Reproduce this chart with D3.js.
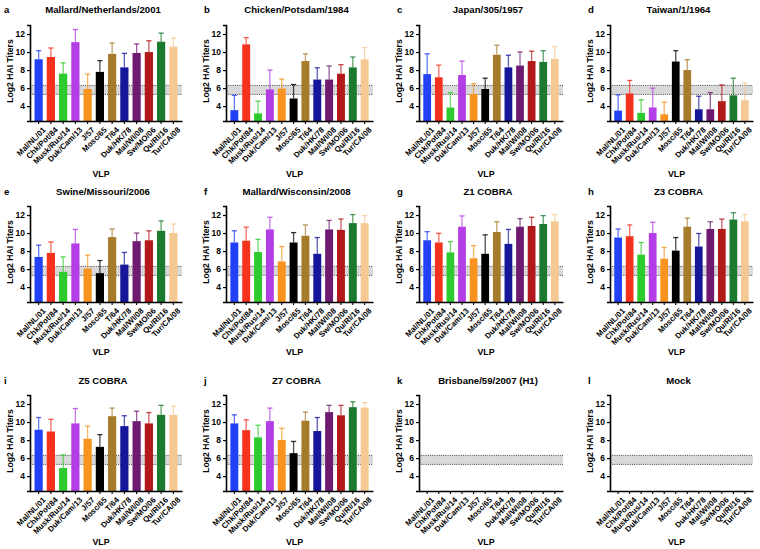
<!DOCTYPE html>
<html><head><meta charset="utf-8">
<script src="https://cdn.jsdelivr.net/npm/d3@7"></script>
<style>body{margin:0;background:#fff}svg{display:block}text{font-family:"Liberation Sans",Arial,Helvetica,sans-serif}</style>
</head><body>
<svg id="c" width="760" height="549"></svg>
<script>
const categories = ["Mal/NL/01","Chk/Pot/84","Musk/Rus/14","Duk/Cam/13","J/57","Mosc/65","T/64","Duk/HK/78","Mal/WI/08","Sw/MO/06","Qu/RI/16","Tur/CA/08"];
const colors = ["#2240f5","#f5321e","#2ecb2e","#b43ee6","#f7931e","#000000","#a67c2c","#16169a","#6e1a70","#b2191b","#1b7a30","#f6c892"];
const panelLetters = ["a","b","c","d","e","f","g","h","i","j","k","l"];
const panelTitles = ["Mallard/Netherlands/2001","Chicken/Potsdam/1984","Japan/305/1957","Taiwan/1/1964","Swine/Missouri/2006","Mallard/Wisconsin/2008","Z1 COBRA","Z3 COBRA","Z5 COBRA","Z7 COBRA","Brisbane/59/2007 (H1)","Mock"];
const means = [
  [9.2,9.45,7.6,11.1,5.9,7.8,9.8,8.3,9.9,10.0,11.15,10.6],
  [3.55,10.85,3.2,5.85,5.95,4.85,9.0,6.95,6.95,7.6,8.3,9.2],
  [7.55,7.2,3.85,7.45,5.35,5.9,9.7,8.3,8.5,9.0,8.9,9.25],
  [3.5,5.4,3.25,3.85,3.1,8.95,8.0,3.65,3.65,4.55,5.2,4.65],
  [7.35,7.8,5.7,8.85,6.05,5.55,9.55,6.5,9.1,9.2,10.25,10.0],
  [8.95,9.15,7.9,10.4,6.85,8.95,9.7,7.7,10.4,10.35,11.1,11.1],
  [9.2,8.95,7.85,10.7,7.2,7.7,10.12,8.8,10.7,10.78,11.0,11.3],
  [9.5,9.65,7.6,10.0,7.15,8.05,10.7,8.5,10.45,10.45,11.5,11.3],
  [9.15,8.95,4.9,9.85,8.15,7.25,10.65,9.55,10.1,9.85,10.8,10.8],
  [9.85,9.1,8.3,10.1,8.0,6.55,10.15,9.0,11.1,10.75,11.65,11.6],
  [null,null,null,null,null,null,null,null,null,null,null,null],
  [null,null,null,null,null,null,null,null,null,null,null,null]
];
const errTops = [
  [10.15,10.45,8.8,12.5,7.55,9.05,11.0,9.85,10.9,11.25,12.1,11.55],
  [5.2,11.6,4.55,8.0,7.0,6.4,9.8,8.25,8.45,8.6,9.45,10.5],
  [9.8,8.55,5.5,9.0,6.5,7.1,10.75,9.65,10.0,10.1,10.15,10.6],
  [5.25,6.85,4.7,6.0,4.45,10.15,9.15,5.1,5.5,6.35,7.1,6.55],
  [8.65,9.0,7.35,10.4,7.55,6.95,10.45,7.85,10.0,10.25,11.35,11.0],
  [10.25,10.65,9.3,11.75,8.5,10.05,10.9,9.5,11.4,11.55,12.05,11.95],
  [10.15,9.97,9.05,11.9,8.6,9.8,11.25,10.4,11.6,11.75,11.93,12.05],
  [10.45,10.9,8.95,11.2,8.4,9.5,11.65,9.95,11.25,11.55,12.25,12.05],
  [10.5,10.3,6.35,11.5,9.55,8.6,11.55,10.7,11.2,11.05,11.85,11.75],
  [10.8,10.25,9.65,11.55,9.3,7.85,11.1,10.5,11.85,11.85,12.25,12.15],
  [null,null,null,null,null,null,null,null,null,null,null,null],
  [null,null,null,null,null,null,null,null,null,null,null,null]
];
const yTicks = [4,6,8,10,12];
const bandLow = 5.3, bandHigh = 6.3;
const yMin = 2.35, yMax = 13;

const colAxisX = [30, 226, 419, 610];
const colPlotW = [152, 147, 144, 143];
const rowTopY = [25, 206, 395];
const plotH = 96;
const rowTitleY = [13, 194.5, 384];
const rowVlpY = [176.5, 355, 545];

const svg = d3.select("#c");

for (let p = 0; p < 12; p++) {
  const col = p % 4, row = Math.floor(p / 4);
  const x0 = colAxisX[col], W = colPlotW[col], y0 = rowTopY[row];
  const g = svg.append("g").attr("transform", `translate(${x0},${y0})`);
  const x = d3.scaleBand().domain(categories).range([0, W]).paddingInner(0.33).paddingOuter(0.37);
  const y = d3.scaleLinear().domain([yMin, yMax]).range([plotH, 0]);

  // band
  g.append("rect").attr("x", 0).attr("width", W)
    .attr("y", y(bandHigh)).attr("height", y(bandLow) - y(bandHigh))
    .attr("fill", "#d9d9d9");
  [bandLow, bandHigh].forEach(v => {
    g.append("line").attr("x1", 0).attr("x2", W).attr("y1", y(v)).attr("y2", y(v))
      .attr("stroke", "#333").attr("stroke-width", 0.9).attr("stroke-dasharray", "1,1.2");
  });

  const data = categories.map((c, i) => ({c, m: means[p][i], e: errTops[p][i], col: colors[i]})).filter(d => d.m != null);
  // error bars
  const eb = g.selectAll(".eb").data(data).enter().append("g");
  eb.append("line")
    .attr("x1", d => x(d.c) + x.bandwidth() / 2).attr("x2", d => x(d.c) + x.bandwidth() / 2)
    .attr("y1", d => y(d.m)).attr("y2", d => y(d.e))
    .attr("stroke", d => d.col).attr("stroke-opacity", 0.7).attr("stroke-width", 1.3);
  eb.append("line")
    .attr("x1", d => x(d.c) + x.bandwidth() / 2 - 2.6).attr("x2", d => x(d.c) + x.bandwidth() / 2 + 2.6)
    .attr("y1", d => y(d.e)).attr("y2", d => y(d.e))
    .attr("stroke", d => d.col).attr("stroke-opacity", 0.8).attr("stroke-width", 1.3);
  // bars
  g.selectAll(".bar").data(data).enter().append("rect")
    .attr("x", d => x(d.c)).attr("width", x.bandwidth())
    .attr("y", d => y(d.m)).attr("height", d => y(yMin) - y(d.m))
    .attr("fill", d => d.col);

  // axes
  const ya = g.append("g").call(d3.axisLeft(y).tickValues(yTicks).tickSize(3).tickPadding(2).tickFormat(d3.format("d")));
  ya.select(".domain").attr("stroke-width", 1.6);
  ya.selectAll(".tick line").attr("stroke-width", 1.2);
  ya.selectAll("text").attr("font-size", 8.5).attr("font-weight", "bold").attr("fill", "#000");
  const xa = g.append("g").attr("transform", `translate(0,${plotH})`)
    .call(d3.axisBottom(x).tickSize(3).tickSizeOuter(0));
  xa.select(".domain").attr("stroke-width", 1.6);
  xa.selectAll(".tick line").attr("stroke-width", 1.1);
  xa.selectAll("text").attr("font-size", 7.9).attr("font-weight", "bold").attr("fill", "#000")
    .attr("text-anchor", "end").attr("dy", null)
    .attr("transform", "translate(3.5,5.5) rotate(-45)").attr("y", 0).attr("x", 0).attr("dominant-baseline", "hanging");

  // y label
  g.append("text").attr("transform", `translate(-17,${plotH / 2 - 2}) rotate(-90)`)
    .attr("text-anchor", "middle").attr("font-size", 8.6).attr("font-weight", "bold").text("Log2 HAI Titers");

  // titles
  svg.append("text").attr("x", x0 + W / 2 - 3).attr("y", rowTitleY[row]).attr("text-anchor", "middle")
    .attr("font-size", 9.6).attr("font-weight", "bold").text(panelTitles[p]);
  svg.append("text").attr("x", col === 0 ? 4 : x0 - 22).attr("y", rowTitleY[row]).attr("font-size", 9.6)
    .attr("font-weight", "bold").text(panelLetters[p]);
  svg.append("text").attr("x", x0 + W / 2 - 5).attr("y", rowVlpY[row]).attr("text-anchor", "middle")
    .attr("font-size", 8.8).attr("font-weight", "bold").text("VLP");
}
</script>
</body></html>
